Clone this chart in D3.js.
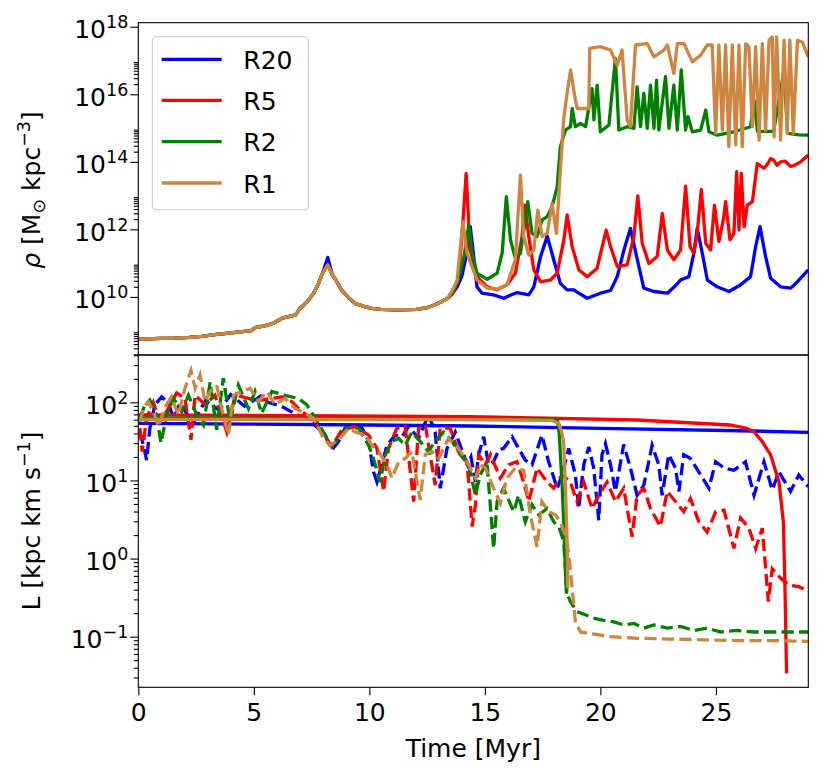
<!DOCTYPE html>
<html>
<head>
<meta charset="utf-8">
<script src="https://cdn.jsdelivr.net/npm/d3@7"></script>
<style>
  body { margin: 0; background: #fff; }
  svg { font-family: "DejaVu Sans", sans-serif; }
</style>
</head>
<body>
<svg id="chart" width="831" height="779"></svg>
<script>
// ---- data (time in Myr, values given as log10) ----
const seriesNames = ['R20', 'R5', 'R2', 'R1'];
const seriesColors = ['#0000ff', '#ff0000', '#008000', '#cd853f'];

const timeTicks = [0, 5, 10, 15, 20, 25];
const rhoTickExps = [10, 12, 14, 16, 18];
const lTickExps = [-1, 0, 1, 2];

// density, shared early evolution
const rhoRise = [[0,8.75],[1.0,8.77],[1.59,8.78],[2.2,8.8],[2.75,8.83],[3.3,8.88],[3.91,8.93],[4.5,8.97],[4.88,9.0],
  [5.07,9.09],[5.5,9.15],[5.84,9.22],[6.23,9.37],[6.6,9.43],[6.81,9.47],[7.0,9.66],[7.3,9.85],[7.59,10.11],[7.8,10.4],[7.97,10.7]];
const rhoDecay = [[8.4,10.65],[8.55,10.5],[8.8,10.2],[9.13,9.96],[9.4,9.8],[9.72,9.73],[10.1,9.66],[10.49,9.63],
  [11.26,9.62],[12.04,9.63],[12.5,9.68],[12.81,9.76],[13.1,9.85],[13.39,9.96]];

const rhoR20 = [[13.6,10.1],[13.8,10.3],[14.0,10.6],[14.16,11.1],[14.37,12.08],[14.5,11.3],[14.66,10.3],[14.88,10.11],
  [15.38,10.06],[15.82,9.96],[16.1,10.05],[16.4,10.13],[16.9,10.06],[17.12,10.3],[17.41,11.19],[17.7,11.8],[17.98,11.1],
  [18.27,10.4],[18.56,10.21],[18.85,10.21],[19.1,10.1],[19.43,9.96],[20.0,10.11],[20.44,10.19],[20.73,10.6],[21.02,11.39],
  [21.3,12.03],[21.6,11.1],[21.88,10.26],[22.32,10.16],[22.9,10.11],[23.2,10.3],[23.47,10.5],[23.83,10.6],[24.05,11.3],
  [24.19,12.03],[24.41,11.3],[24.63,10.5],[25.06,10.3],[25.57,10.16],[26.07,10.36],[26.5,10.6],[26.72,11.49],[26.91,12.08],
  [27.15,11.2],[27.37,10.55],[27.8,10.3],[28.24,10.26],[28.53,10.45],[29,10.8]];
const rhoR5 = [[13.6,10.1],[13.85,10.5],[14.01,11.79],[14.19,13.66],[14.3,12.2],[14.37,11.39],[14.66,10.6],[15.1,10.3],
  [15.53,10.21],[15.96,10.36],[16.32,10.7],[16.61,11.79],[16.73,12.72],[16.9,11.79],[17.12,10.8],[17.41,10.45],[17.84,10.5],
  [18.13,10.7],[18.42,11.69],[18.56,12.43],[18.78,11.49],[19.07,10.8],[19.43,10.6],[19.86,10.85],[20.08,11.49],[20.25,11.98],
  [20.44,11.49],[20.73,10.9],[21.16,10.95],[21.45,11.79],[21.62,12.99],[21.81,11.59],[22.1,10.99],[22.46,11.2],[22.68,12.47],
  [22.9,11.39],[23.18,11.1],[23.47,11.39],[23.69,13.28],[23.88,11.49],[24.05,11.3],[24.19,11.88],[24.37,13.18],[24.56,11.59],
  [24.77,11.39],[24.94,12.72],[25.13,11.64],[25.32,12.28],[25.42,12.82],[25.61,11.69],[25.78,11.88],[25.9,13.71],[26.0,11.98],
  [26.1,13.66],[26.22,12.08],[26.36,12.72],[26.58,12.82],[26.79,13.95],[27.08,13.81],[27.2,13.9],[27.37,14.1],[27.5,14.05],
  [27.65,13.9],[27.8,14.0],[28.0,14.02],[28.24,13.86],[28.4,13.9],[28.67,14.0],[29,14.2]];
const rhoR2 = [[13.6,10.15],[13.85,10.5],[14.1,11.2],[14.3,12.13],[14.45,11.3],[14.66,10.7],[15.1,10.52],[15.53,10.7],
  [15.75,11.3],[15.93,12.97],[16.11,11.69],[16.32,11.15],[16.54,11.29],[16.71,12.08],[16.86,12.82],[17.04,11.88],[17.26,11.79],
  [17.48,12.28],[17.7,12.38],[17.91,12.67],[18.13,13.26],[18.27,14.45],[18.49,14.94],[18.71,15.04],[18.78,15.58],[18.92,15.04],
  [19.14,15.14],[19.36,15.04],[19.64,16.17],[19.72,15.24],[19.86,16.27],[20.0,14.89],[20.37,15.09],[20.65,17.06],[20.8,14.94],
  [21.16,15.04],[21.45,14.99],[21.59,16.22],[21.74,15.04],[21.88,16.03],[22.03,14.99],[22.17,16.27],[22.32,14.99],[22.43,16.42],
  [22.53,14.94],[22.82,16.52],[22.97,14.99],[23.18,16.27],[23.33,14.94],[23.5,16.72],[23.69,14.94],[23.79,15.34],[23.98,14.89],
  [24.34,14.94],[24.56,15.53],[24.7,14.89],[25.06,14.79],[25.78,14.89],[26.5,15.04],[26.65,15.83],[26.8,14.9],[27.5,14.9],
  [27.95,16.72],[28.1,14.84],[28.6,14.8],[29,14.79]];
const rhoR1 = [[13.6,10.2],[13.8,10.5],[14.05,12.23],[14.23,11.29],[14.66,10.5],[15.1,10.26],[15.53,10.23],[15.96,10.36],
  [16.32,11.1],[16.54,13.61],[16.68,11.79],[16.9,11.24],[17.12,11.39],[17.29,12.57],[17.48,11.79],[17.7,11.88],[17.91,12.77],
  [18.1,11.88],[18.27,13.76],[18.42,15.33],[18.56,16.03],[18.71,16.72],[18.92,15.83],[19.0,15.58],[19.5,15.58],[19.54,17.36],
  [20.0,17.41],[20.44,17.31],[20.73,16.86],[20.94,17.31],[21.16,15.24],[21.3,15.04],[21.52,17.46],[22.03,17.5],[22.32,17.11],
  [22.75,17.31],[22.9,17.46],[23.18,16.62],[23.33,17.5],[23.62,17.5],[23.98,16.96],[24.34,17.16],[24.63,17.46],[24.84,17.46],
  [24.99,14.84],[25.13,17.46],[25.28,14.94],[25.42,17.46],[25.56,14.45],[25.71,17.46],[25.86,14.5],[26.0,17.46],[26.14,14.45],
  [26.29,17.5],[26.43,17.41],[26.58,15.04],[26.72,17.41],[26.87,14.64],[27.01,17.5],[27.15,14.94],[27.3,17.6],[27.44,17.7],
  [27.52,14.74],[27.63,17.7],[27.8,14.64],[27.95,17.6],[28.09,14.84],[28.2,17.6],[28.35,14.84],[28.53,17.6],[28.74,17.55],[29,17.11]];
const rhoPeaks = [11.17, 10.95, 10.95, 10.95]; // t = 8.2

// angular momentum, solid
const lTotR20 = [[0,1.73],[5,1.72],[10,1.71],[14.4,1.697],[20,1.667],[26.6,1.633],[29,1.616]];
const lTotR5 = [[0,1.84],[7,1.83],[14.37,1.816],[21.6,1.774],[25.6,1.71],[26.3,1.67],[26.65,1.624],[27.0,1.5],[27.37,1.326],
  [27.73,0.984],[27.92,0.472],[27.99,-0.38],[28.06,-1.47]];
const lTotR2 = [[0,1.8],[7,1.795],[14,1.79],[18.0,1.78],[18.15,1.76],[18.22,1.6],[18.27,1.326],[18.35,0.9],[18.41,0.472],
  [18.47,0.0],[18.53,-0.45]];
const lTotR1 = [[0,1.782],[8,1.78],[14,1.778],[17.9,1.77],[18.2,1.73],[18.3,1.65],[18.41,1.497],[18.49,0.9],[18.56,0.216],[18.59,-0.38]];

// angular momentum, dashed
const lDashR20 = [[0.07,1.62],[0.22,1.45],[0.36,1.26],[0.5,1.67],[0.72,1.97],[1.01,2.07],[1.3,1.99],[1.52,1.8],[1.8,1.98],
  [2.09,1.86],[2.4,1.75],[2.9,2.02],[3.5,1.9],[4.0,2.1],[4.6,1.95],[5.3,2.08],[5.6,2.0],[6.2,1.95],[6.8,1.85],[7.3,1.8],
  [7.6,1.72],[8.09,1.58],[8.38,1.39],[8.67,1.5],[8.95,1.67],[9.24,1.69],[9.68,1.67],[9.97,1.5],[10.18,1.11],[10.33,0.98],
  [10.54,1.2],[10.76,1.45],[11.12,1.58],[11.41,1.56],[11.7,1.69],[12.13,1.54],[12.56,1.84],[12.85,1.62],[13.07,0.9],[13.36,1.41],
  [13.72,1.62],[14.08,1.33],[14.25,1.2],[14.4,1.3],[14.59,0.98],[14.73,1.33],[14.95,1.56],[15.16,1.2],[15.38,1.24],[15.6,1.39],
  [15.81,1.41],[16.18,1.56],[16.46,1.41],[16.75,1.26],[17.04,1.2],[17.47,1.58],[17.76,1.24],[18.13,0.9],[18.34,1.07],[18.63,1.41],
  [18.92,1.07],[19.06,0.64],[19.28,1.2],[19.5,1.43],[19.71,1.16],[19.93,0.49],[20.07,1.33],[20.22,1.47],[20.44,1.2],[20.65,0.86],
  [21.01,1.46],[21.3,1.16],[21.59,0.81],[21.88,0.94],[22.24,1.45],[22.53,1.2],[22.67,0.81],[22.96,1.33],[23.25,1.16],[23.4,0.86],
  [23.61,1.33],[23.9,1.28],[24.34,1.07],[24.7,0.9],[24.99,1.24],[25.35,1.16],[25.78,1.13],[26.28,1.24],[26.65,0.81],[27.08,1.24],
  [27.44,0.88],[27.73,1.11],[28.23,0.86],[28.59,1.07],[29,0.92]];
const lDashR5 = [[0.07,1.67],[0.17,1.37],[0.36,1.8],[0.65,2.0],[0.94,1.75],[1.3,1.92],[1.66,2.12],[2.02,2.05],[2.28,1.52],
  [2.46,2.09],[2.89,1.97],[3.32,2.09],[3.83,1.62],[4.19,2.09],[4.77,2.05],[5.34,2.03],[5.78,2.05],[6.21,2.07],[6.64,2.01],
  [7.08,1.88],[7.51,1.8],[7.94,1.62],[8.38,1.43],[8.81,1.65],[9.39,1.69],[9.97,1.58],[10.33,1.41],[10.62,0.86],[10.83,1.41],
  [11.19,1.67],[11.55,1.69],[11.92,0.73],[12.13,1.67],[12.42,1.71],[12.85,0.94],[13.07,1.67],[13.5,1.67],[13.86,1.37],[14.23,1.24],
  [14.45,0.41],[14.6,0.7],[14.73,1.33],[15.02,1.2],[15.24,1.33],[15.67,1.03],[16.03,1.2],[16.39,1.24],[16.68,0.98],[16.9,0.73],
  [17.26,1.16],[17.69,0.98],[17.98,0.9],[18.34,1.07],[18.7,0.98],[18.99,0.73],[19.28,0.98],[19.64,0.64],[19.93,0.81],[20.29,0.98],
  [20.65,0.73],[21.01,0.9],[21.37,0.28],[21.59,0.81],[21.88,0.9],[22.17,0.64],[22.6,0.41],[22.89,0.86],[23.25,0.73],[23.61,0.6],
  [23.9,0.77],[24.26,0.47],[24.62,0.34],[24.99,0.6],[25.35,0.62],[25.78,0.13],[26.07,0.52],[26.43,0.39],[26.72,0.13],[27.01,0.39],
  [27.27,-0.55],[27.44,-0.13],[27.8,-0.25],[28.16,-0.34],[28.59,-0.36],[29,-0.42]];
const lDashR2 = [[0.07,1.8],[0.29,1.97],[0.5,2.03],[0.79,1.84],[0.98,1.48],[1.23,1.84],[1.52,2.05],[1.88,1.88],[2.17,2.09],
  [2.53,1.84],[2.82,1.71],[3.11,2.26],[3.39,1.65],[3.68,2.31],[3.97,1.75],[4.33,2.22],[4.77,1.92],[5.05,2.14],[5.34,1.86],
  [5.78,2.14],[6.35,2.09],[6.93,2.05],[7.29,1.97],[7.65,1.8],[8.09,1.58],[8.38,1.45],[8.67,1.54],[9.03,1.67],[9.53,1.67],
  [9.97,1.45],[10.18,1.28],[10.47,0.98],[10.69,1.33],[10.98,1.5],[11.27,1.54],[11.55,1.45],[11.84,1.62],[12.2,1.5],[12.56,1.37],
  [12.85,1.5],[13.22,1.62],[13.58,1.5],[13.94,1.33],[14.3,1.2],[14.59,0.81],[14.8,1.07],[15.09,1.24],[15.38,0.13],[15.53,0.73],
  [15.81,0.9],[16.25,0.6],[16.46,0.81],[16.75,0.47],[17.04,0.69],[17.33,0.56],[17.69,0.64],[17.98,0.47],[18.2,0.41],[18.41,0.22],
  [18.56,-0.45],[18.7,-0.55],[18.99,-0.68],[19.35,-0.72],[19.79,-0.77],[20.15,-0.79],[20.58,-0.81],[21.01,-0.85],[21.45,-0.83],
  [21.88,-0.89],[22.31,-0.85],[22.89,-0.89],[23.47,-0.87],[24.05,-0.92],[24.62,-0.89],[25.2,-0.94],[25.92,-0.92],[26.65,-0.94],
  [27.37,-0.94],[28.09,-0.94],[29,-0.94]];
const lDashR1 = [[0.07,1.75],[0.22,1.92],[0.43,2.01],[0.65,1.88],[0.87,1.69],[1.16,1.94],[1.44,2.07],[1.73,1.84],[2.02,2.18],
  [2.28,2.41],[2.46,2.18],[2.67,2.35],[2.89,2.01],[3.11,2.14],[3.39,2.22],[3.61,1.92],[3.9,1.58],[4.12,2.09],[4.48,2.14],
  [4.84,2.18],[5.2,2.01],[5.56,2.14],[5.92,1.97],[6.35,2.05],[6.79,1.92],[7.22,1.86],[7.58,1.8],[8.02,1.54],[8.3,1.45],
  [8.67,1.52],[9.1,1.67],[9.39,1.62],[9.82,1.58],[10.11,1.45],[10.4,1.37],[10.76,1.2],[10.98,1.03],[11.27,1.24],[11.55,1.28],
  [11.84,1.37],[12.2,0.75],[12.42,1.33],[12.71,1.37],[13.0,1.28],[13.43,1.54],[13.86,1.41],[14.3,1.2],[14.59,1.03],[14.8,1.2],
  [15.02,1.16],[15.38,0.9],[15.67,0.71],[15.96,1.03],[16.32,1.16],[16.68,1.13],[16.97,0.56],[17.26,0.15],[17.47,0.73],[17.76,0.6],
  [18.05,0.56],[18.27,0.47],[18.49,0.3],[18.63,0.05],[18.78,-0.38],[18.92,-0.81],[19.14,-0.94],[19.57,-0.96],[20.44,-1.0],
  [21.59,-1.02],[23.03,-1.03],[24.48,-1.04],[25.92,-1.05],[27.37,-1.05],[29,-1.06]];

// ---- layout ----
const L = 138.3, R = 808.3, T = 22.7, M = 355, B = 687.3;
const svg = d3.select('#chart');
const x = d3.scaleLinear().domain([0, 29]).range([L, R]);
const yRho = d3.scaleLog().domain([10 ** 8.28, 10 ** 18.12]).range([M, T]);
const yL = d3.scaleLog().domain([10 ** -1.648, 10 ** 2.606]).range([B, M]);

const defs = svg.append('defs');
defs.append('clipPath').attr('id', 'clipTop').append('rect').attr('x', L).attr('y', T).attr('width', R - L).attr('height', M - T);
defs.append('clipPath').attr('id', 'clipBot').append('rect').attr('x', L).attr('y', M).attr('width', R - L).attr('height', B - M);

const rhoSeries = [rhoR20, rhoR5, rhoR2, rhoR1].map((late, i) => rhoRise.concat([[8.2, rhoPeaks[i]]], rhoDecay, late));
const lTot = [lTotR20, lTotR5, lTotR2, lTotR1];
const lDash = [lDashR20, lDashR5, lDashR2, lDashR1];

const lineRho = d3.line().x(d => x(d[0])).y(d => yRho(10 ** d[1]));
const lineL = d3.line().x(d => x(d[0])).y(d => yL(10 ** d[1]));

// top panel
const gTop = svg.append('g').attr('clip-path', 'url(#clipTop)');
rhoSeries.forEach((s, i) => {
  gTop.append('path').attr('d', lineRho(s)).attr('fill', 'none')
    .attr('stroke', seriesColors[i]).attr('stroke-width', 3.3).attr('stroke-linejoin', 'round');
});

// bottom panel
const gBot = svg.append('g').attr('clip-path', 'url(#clipBot)');
seriesNames.forEach((n, i) => {
  gBot.append('path').attr('d', lineL(lTot[i])).attr('fill', 'none')
    .attr('stroke', seriesColors[i]).attr('stroke-width', 3.3).attr('stroke-linejoin', 'round');
  gBot.append('path').attr('d', lineL(lDash[i])).attr('fill', 'none')
    .attr('stroke', seriesColors[i]).attr('stroke-width', 3.3).attr('stroke-dasharray', '12.2,5.3');
});

// frames
[[T, M], [M, B]].forEach(([a, b]) => {
  svg.append('rect').attr('x', L).attr('y', a).attr('width', R - L).attr('height', b - a)
    .attr('fill', 'none').attr('stroke', '#000').attr('stroke-width', 1.1);
});

// axes
const fs = 25;
function minorLogs(exps) {
  const out = [];
  exps.forEach(e => { for (let s = 2; s < 10; s++) out.push(s * 10 ** e); });
  return out;
}
function logAxis(scale, majorExps, minorExps) {
  const g = svg.append('g').attr('transform', `translate(${L},0)`);
  g.call(d3.axisLeft(scale).tickValues(minorLogs(minorExps).filter(v => v > scale.domain()[0] && v < scale.domain()[1]))
    .tickSize(4.5).tickFormat(''));
  const gm = svg.append('g').attr('transform', `translate(${L},0)`);
  gm.call(d3.axisLeft(scale).tickValues(majorExps.map(e => 10 ** e)).tickSize(8).tickPadding(10).tickFormat(''));
  [g, gm].forEach(a => { a.select('.domain').remove(); a.selectAll('line').attr('stroke-width', 1.1); });
  gm.selectAll('.tick').each(function(v, i) {
    const t = d3.select(this).select('text').text(null)
      .attr('font-size', fs).attr('fill', '#000').attr('font-family', '"DejaVu Sans"').attr('dy', 11).attr('x', -10);
    t.append('tspan').text('10');
    t.append('tspan').attr('font-size', fs * 0.7).attr('dy', -10).text(String(majorExps[i]).replace('-', '\u2212'));
  });
}
logAxis(yRho, rhoTickExps, [8, 10, 12, 14, 16]);
logAxis(yL, lTickExps, [-2, -1, 0, 1, 2]);

const gx = svg.append('g').attr('transform', `translate(0,${B})`)
  .call(d3.axisBottom(x).tickValues(timeTicks).tickSize(8).tickPadding(8));
gx.select('.domain').remove();
gx.selectAll('line').attr('stroke-width', 1.1);
gx.selectAll('text').attr('font-size', fs).attr('font-family', '"DejaVu Sans"').attr('fill', '#000').attr('dy', '0.72em');

// axis labels
svg.append('text').attr('x', (L + R) / 2).attr('y', 757).attr('text-anchor', 'middle')
  .attr('font-size', fs).text('Time [Myr]');

const yl1 = svg.append('text').attr('transform', 'translate(40,190) rotate(-90)').attr('text-anchor', 'middle').attr('font-size', fs);
yl1.append('tspan').attr('font-style', 'italic').text('\u03c1');
yl1.append('tspan').text(' [M');
yl1.append('tspan').attr('font-size', fs * 0.7).attr('dy', 5).text('\u2299');
yl1.append('tspan').attr('dy', -5).text(' kpc');
yl1.append('tspan').attr('font-size', fs * 0.7).attr('dy', -10).text('\u22123');
yl1.append('tspan').attr('dy', 10).text(']');

const yl2 = svg.append('text').attr('transform', 'translate(40,521) rotate(-90)').attr('text-anchor', 'middle').attr('font-size', fs);
yl2.append('tspan').text('L [kpc km s');
yl2.append('tspan').attr('font-size', fs * 0.7).attr('dy', -10).text('\u22121');
yl2.append('tspan').attr('dy', 10).text(']');

// legend
const lg = svg.append('g');
lg.append('rect').attr('x', 152.3).attr('y', 36.7).attr('width', 156).attr('height', 173).attr('rx', 4)
  .attr('fill', '#fff').attr('fill-opacity', 0.8).attr('stroke', '#cccccc').attr('stroke-width', 1.1);
const legendY = [59.3, 100.3, 141.7, 183];
seriesNames.forEach((n, i) => {
  lg.append('line').attr('x1', 161.7).attr('x2', 221.7).attr('y1', legendY[i]).attr('y2', legendY[i])
    .attr('stroke', seriesColors[i]).attr('stroke-width', 3.3);
  lg.append('text').attr('x', 243.3).attr('y', legendY[i] + 9.5).attr('font-size', fs).text(n);
});
</script>
</body>
</html>
